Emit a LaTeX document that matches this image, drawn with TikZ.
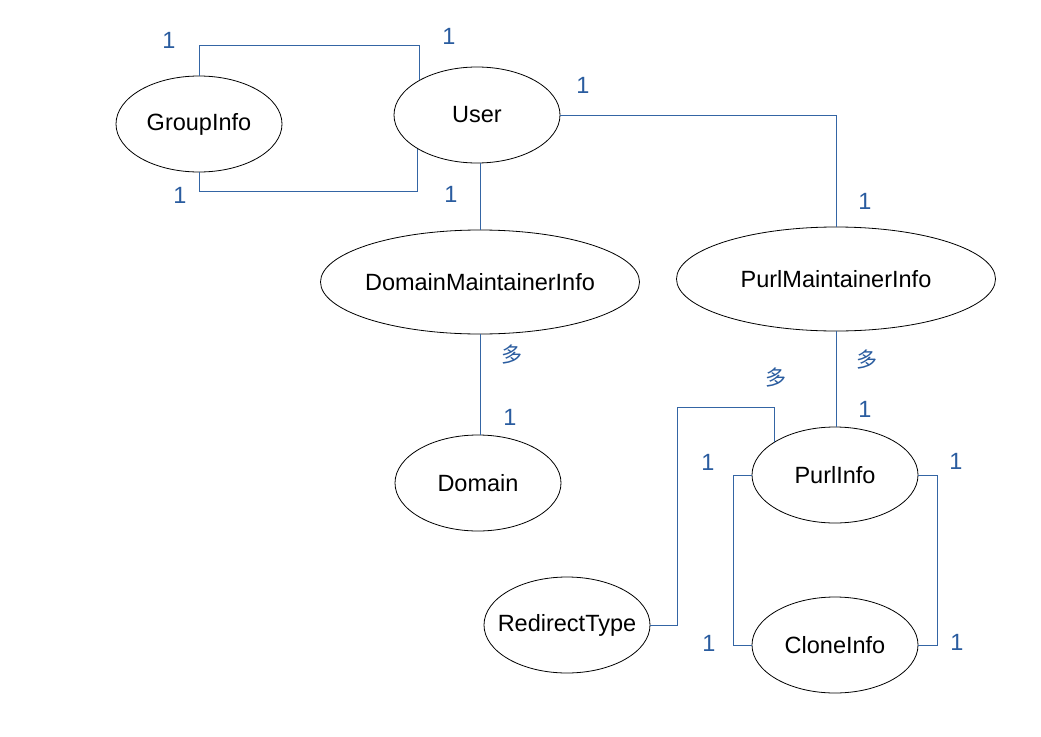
\documentclass[tikz,border=0pt]{standalone}
\usepackage{fontspec}
\setmainfont{Liberation Sans}
\newfontfamily\cjk{Noto Sans CJK SC}
\usetikzlibrary{shapes.geometric}
\definecolor{cardblue}{HTML}{2A5C9F}
\definecolor{lineblue}{HTML}{3465A4}
\begin{document}
\begin{tikzpicture}[x=1pt, y=-1pt]
        \tikzstyle{entity} = [draw, ellipse, inner xsep=-20pt, inner ysep=-10pt, line width=0.8pt,
            minimum width=166pt, minimum height=96pt, font=\fontsize{23.5}{28}\selectfont]
        \tikzstyle{wide} = [entity, minimum width=319pt, minimum height=104pt]
        \tikzstyle{card} = [text=cardblue, inner sep=0pt, font=\fontsize{23.5}{28}\selectfont]
        \tikzstyle{many} = [card, font=\fontsize{21}{24}\cjk]
        \tikzstyle{link} = [draw=lineblue, line width=1pt]
        \useasboundingbox (0,0) rectangle (1041,736);

        \node[entity](group) at (199,124){GroupInfo};
        \node[entity](user) at (477,115){User};
        \node[wide](dmi) at (480,282){DomainMaintainerInfo};
        \node[wide](pmi) at (836,279){PurlMaintainerInfo};
        \node[entity](domain) at (478,483){Domain};
        \node[entity](purl) at (835,475){PurlInfo};
        \node[entity](clone) at (835,645){CloneInfo};
        \node[entity](redirect) at (567,625){RedirectType};
        \coordinate(rbend) at (677,407);

        \path[link] (group.north) -- ++(0,-30) -| (user.149.6);
        \path[link] (group.south) -- ++(0,19) -| (user.210.4);
        \path[link] (user.east) -| (pmi.north);
        \path[link] (user.south -| dmi.north) -- (dmi.north);
        \path[link] (dmi.south) -- (domain.north -| dmi.south);
        \path[link] (pmi.south) -- (purl.north -| pmi.south);
        \path[link] (redirect.east) -| (rbend) -| (purl.151);
        \path[link] (purl.west) -- ++(-18,0) |- (clone.west);
        \path[link] (purl.east) -- ++(19,0) |- (clone.east);

        \node[card](c1) at (169,40){1};
        \node[card](c2) at (449,36){1};
        \node[card](c3) at (583,85){1};
        \node[card](c4) at (180,195){1};
        \node[card](c5) at (451,194){1};
        \node[card](c6) at (865,201){1};
        \node[many](m1) at (512,355){多};
        \node[card](c7) at (510,417){1};
        \node[many](m2) at (867,360){多};
        \node[many](m3) at (776,378){多};
        \node[card](c8) at (865,409){1};
        \node[card](c9) at (708,462){1};
        \node[card](c10) at (956,461){1};
        \node[card](c11) at (709,643){1};
        \node[card](c12) at (957,642){1};
    \end{tikzpicture}
\end{document}
